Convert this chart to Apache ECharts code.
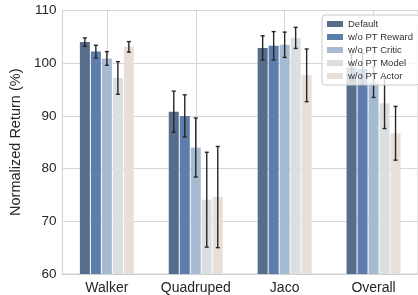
<!DOCTYPE html>
<html lang="en">
<head>
    <meta charset="UTF-8">
    <title>Normalized Return</title>
    <script src="https://cdn.jsdelivr.net/npm/echarts@6/dist/echarts.min.js"></script>
    <style>
        html, body { margin: 0; padding: 0; background: #fff; }
        #chart { width: 418px; height: 295px; }
    </style>
</head>
<body>
    <div id="chart"></div>
<script>
    var categories = ['Walker', 'Quadruped', 'Jaco', 'Overall'];
    var seriesNames = ['Default', 'w/o PT Reward', 'w/o PT Critic', 'w/o PT Model', 'w/o PT Actor'];
    var colors = ['#566d8c', '#5d7eac', '#a6bbd1', '#dcdfe2', '#e8dfdb'];

    // mean values per method (Walker, Quadruped, Jaco, Overall)
    var defaultVals = [104.0, 90.8, 102.9, 99.2];
    var rewardVals = [102.2, 90.0, 103.3, 98.9];
    var criticVals = [100.9, 84.0, 103.5, 96.4];
    var modelVals = [97.2, 74.1, 104.8, 92.4];
    var actorVals = [103.1, 74.6, 97.7, 86.7];

    // half length of the error bars
    var defaultErr = [0.8, 3.9, 2.3, 2.5];
    var rewardErr = [1.2, 4.0, 2.7, 3.0];
    var criticErr = [1.3, 5.6, 2.4, 2.9];
    var modelErr = [3.1, 9.0, 2.0, 4.8];
    var actorErr = [1.0, 9.6, 5.0, 5.1];

    var yTicks = [60, 70, 80, 90, 100, 110];

    var allVals = [defaultVals, rewardVals, criticVals, modelVals, actorVals];
    var allErr = [defaultErr, rewardErr, criticErr, modelErr, actorErr];

    var barW = 10;
    var gap = 1;
    var font = 'Liberation Sans, Arial, sans-serif';

    var chart = echarts.init(document.getElementById('chart'));

    var series = [];
    allVals.forEach(function (vals, i) {
        series.push({
            name: seriesNames[i],
            type: 'bar',
            data: vals,
            barWidth: barW,
            barGap: (gap / barW * 100) + '%',
            itemStyle: { color: colors[i] },
            z: 2
        });
    });
    // error bars, one custom series per method, shifted to its bar
    allErr.forEach(function (errs, i) {
        var shift = (i - 2) * (barW + gap);
        series.push({
            name: 'err' + i,
            type: 'custom',
            z: 5,
            data: errs.map(function (e, k) { return [k, allVals[i][k], e]; }),
            renderItem: function (params, api) {
                var c = api.value(0), v = api.value(1), e = api.value(2);
                var top = api.coord([c, v + e]);
                var bot = api.coord([c, v - e]);
                var x = top[0] + shift;
                var cap = 2;
                var st = { stroke: '#262626', lineWidth: 1.4 };
                return {
                    type: 'group',
                    children: [
                        { type: 'line', shape: { x1: x, y1: top[1], x2: x, y2: bot[1] }, style: st },
                        { type: 'line', shape: { x1: x - cap, y1: top[1], x2: x + cap, y2: top[1] }, style: st },
                        { type: 'line', shape: { x1: x - cap, y1: bot[1], x2: x + cap, y2: bot[1] }, style: st }
                    ]
                };
            }
        });
    });

    chart.setOption({
        animation: false,
        textStyle: { fontFamily: font },
        grid: {
            left: 60, top: 10.5, width: 361, height: 265.5,
            show: true, borderColor: '#d0d0d0', borderWidth: 1
        },
        legend: {
            data: seriesNames,
            orient: 'vertical',
            left: 322, top: 15,
            padding: [4, 6, 4, 5],
            itemWidth: 16, itemHeight: 6,
            itemGap: 3,
            icon: 'rect',
            backgroundColor: 'rgba(255,255,255,0.8)',
            borderColor: '#cccccc', borderWidth: 1, borderRadius: 3,
            textStyle: { fontSize: 9.5, color: '#333', lineHeight: 10, fontFamily: font },
            z: 20
        },
        xAxis: {
            type: 'category',
            data: categories,
            axisLine: { show: true, lineStyle: { color: '#d0d0d0' } },
            axisTick: { show: false },
            axisLabel: { interval: 0, fontSize: 14, color: '#262626', margin: 7 },
            splitLine: { show: true, interval: 0, alignWithLabel: true, lineStyle: { color: '#d6d6d6', width: 1 } }
        },
        yAxis: {
            type: 'value',
            min: yTicks[0], max: yTicks[yTicks.length - 1], interval: 10,
            name: 'Normalized Return (%)',
            nameLocation: 'middle',
            nameGap: 37,
            nameTextStyle: { fontSize: 14.5, color: '#262626' },
            axisLine: { show: false },
            axisTick: { show: false },
            axisLabel: { fontSize: 13.5, color: '#262626', margin: 6 },
            splitLine: { lineStyle: { color: '#d6d6d6', width: 1 } }
        },
        series: series
    });
</script>
</body>
</html>
